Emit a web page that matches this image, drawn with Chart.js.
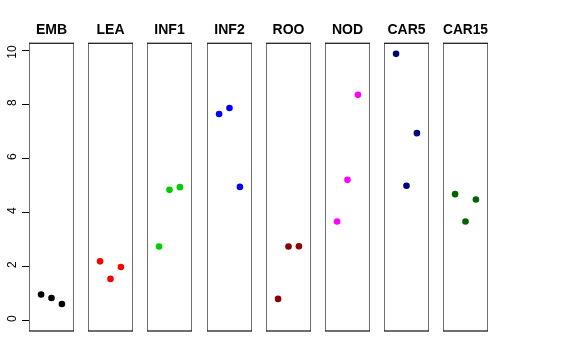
<!DOCTYPE html>
<html>
<head>
<meta charset="utf-8">
<script src="https://cdn.jsdelivr.net/npm/chart.js@4"></script>
<style>
  body { margin: 0; background: #fff; }
  #wrap { position: relative; width: 576px; height: 360px; overflow: hidden; }
  #wrap canvas { position: absolute; top: 0; }
</style>
</head>
<body>
<div id="wrap"></div>
<script>
// panel names and colours
var panels = ["EMB", "LEA", "INF1", "INF2", "ROO", "NOD", "CAR5", "CAR15"];
var colors = ["#000000", "#FF0000", "#00CD00", "#0000FF", "#8B0000", "#FF00FF", "#000080", "#006400"];

// x position of the 3 samples inside each panel
var samples = [1, 2, 3];
var yTicks = [0, 2, 4, 6, 8, 10];

// values
var emb = [0.95, 0.82, 0.60];
var lea = [2.18, 1.53, 1.97];
var inf1 = [2.73, 4.83, 4.93];
var inf2 = [7.64, 7.86, 4.94];
var roo = [0.79, 2.73, 2.74];
var nod = [3.66, 5.20, 8.35];
var car5 = [9.87, 4.98, 6.93];
var car15 = [4.67, 3.66, 4.47];

var values = [emb, lea, inf1, inf2, roo, nod, car5, car15];

var FONT = 'Liberation Sans, Arial, Helvetica, sans-serif';
var Y_MIN = -0.4, Y_MAX = 10.26;

var boxPlugin = {
    id: 'box',
    afterDraw: function(chart) {
        var a = chart.chartArea;
        var ctx = chart.ctx;
        ctx.save();
        ctx.strokeStyle = '#222';
        ctx.lineWidth = 1.3;
        ctx.strokeRect(a.left, a.top, a.right - a.left, a.bottom - a.top);
        ctx.restore();
    }
};

function add_canvas(left, width) {
    var canvas = document.createElement('canvas');
    canvas.width = width;
    canvas.height = 360;
    canvas.style.left = left + 'px';
    canvas.style.width = width + 'px';
    canvas.style.height = '360px';
    document.getElementById('wrap').appendChild(canvas);
    return canvas;
}

function base_options(title, showY) {
    return {
        responsive: false,
        animation: false,
        devicePixelRatio: 1,
        layout: { autoPadding: false, padding: { left: 0, right: 0, top: 0, bottom: 29 } },
        plugins: {
            legend: { display: false },
            tooltip: { enabled: false },
            title: {
                display: true,
                text: title,
                color: '#000',
                font: { family: FONT, size: 14, weight: 'bold' },
                padding: { top: 21.5, bottom: 5 }
            }
        },
        scales: {
            x: { type: 'linear', min: -0.16, max: 4.16, display: false },
            y: {
                type: 'linear',
                min: Y_MIN,
                max: Y_MAX,
                display: showY,
                afterBuildTicks: function(scale) {
                    scale.ticks = yTicks.map(function(v) { return { value: v }; });
                },
                afterFit: function(scale) {
                    if (showY) scale.width = 29;
                },
                grid: { drawOnChartArea: false, drawTicks: true, tickLength: 7, color: '#000' },
                border: { display: false },
                ticks: {
                    color: '#000',
                    minRotation: 90,
                    maxRotation: 90,
                    padding: 9,
                    labelOffset: -5,
                    font: { family: FONT, size: 12 }
                }
            }
        }
    };
}

// left axis only (no data), shares the first panel's vertical layout
var axisCanvas = add_canvas(0, 74);
new Chart(axisCanvas.getContext('2d'), {
    type: 'scatter',
    data: { datasets: [] },
    options: base_options(' ', true)
});

function create_panel(i) {
    var left = Math.round(29 + i * 59.2);
    var canvas = add_canvas(left, 45);

    var pts = [];
    for (var k = 0; k < samples.length; k++) {
        pts.push({ x: samples[k], y: values[i][k] });
    }

    new Chart(canvas.getContext('2d'), {
        type: 'scatter',
        data: {
            datasets: [{
                data: pts,
                backgroundColor: colors[i],
                borderWidth: 0,
                pointRadius: 3.3
            }]
        },
        options: base_options(panels[i], false),
        plugins: [boxPlugin]
    });
}

for (var i = 0; i < panels.length; i++) {
    create_panel(i);
}
</script>
</body>
</html>
